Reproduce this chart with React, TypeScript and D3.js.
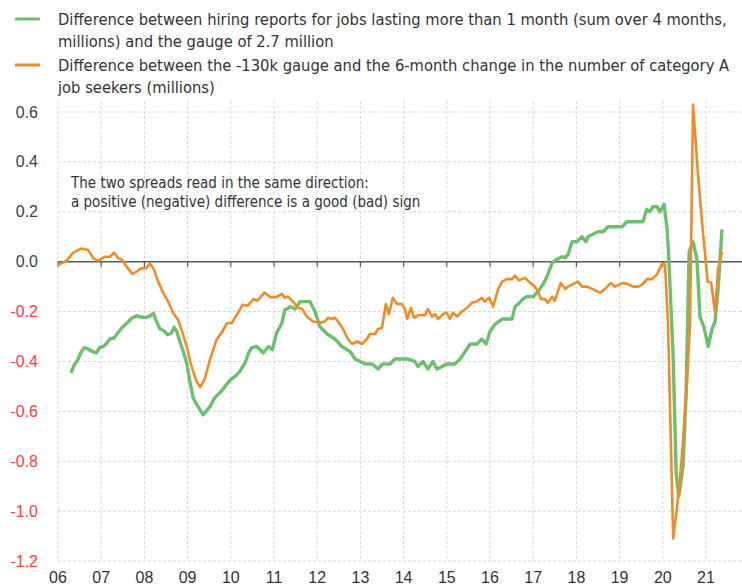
import React from "react";
import * as d3 from "d3";

// [decimal year, value in millions]
const hiringSpread: [number, number][] = [
  [2006.30, -0.446], [2006.38, -0.413], [2006.46, -0.393], [2006.53, -0.364], [2006.61, -0.344],
  [2006.70, -0.35], [2006.79, -0.36], [2006.89, -0.366], [2006.97, -0.343], [2007.05, -0.34],
  [2007.13, -0.327], [2007.20, -0.31], [2007.30, -0.306], [2007.38, -0.287], [2007.47, -0.267],
  [2007.59, -0.247], [2007.71, -0.227], [2007.82, -0.217], [2007.94, -0.223], [2008.05, -0.224],
  [2008.13, -0.217], [2008.21, -0.207], [2008.28, -0.24], [2008.36, -0.27], [2008.44, -0.276],
  [2008.54, -0.293], [2008.62, -0.287], [2008.69, -0.263], [2008.75, -0.28], [2008.82, -0.32],
  [2008.90, -0.36], [2008.98, -0.407], [2009.06, -0.487], [2009.13, -0.547], [2009.22, -0.575],
  [2009.36, -0.614], [2009.52, -0.58], [2009.63, -0.545], [2009.75, -0.525], [2009.87, -0.50],
  [2009.98, -0.476], [2010.10, -0.46], [2010.21, -0.44], [2010.33, -0.406], [2010.41, -0.366],
  [2010.48, -0.346], [2010.60, -0.34], [2010.68, -0.353], [2010.75, -0.366], [2010.87, -0.34],
  [2010.96, -0.353], [2011.06, -0.286], [2011.18, -0.247], [2011.25, -0.193], [2011.30, -0.19],
  [2011.37, -0.18], [2011.49, -0.19], [2011.60, -0.16], [2011.83, -0.16], [2011.95, -0.20],
  [2012.06, -0.26], [2012.23, -0.29], [2012.41, -0.31], [2012.57, -0.34], [2012.76, -0.36],
  [2012.88, -0.39], [2013.11, -0.41], [2013.27, -0.41], [2013.41, -0.43], [2013.52, -0.41],
  [2013.69, -0.41], [2013.80, -0.39], [2014.08, -0.39], [2014.26, -0.40], [2014.33, -0.42],
  [2014.45, -0.40], [2014.56, -0.43], [2014.68, -0.40], [2014.77, -0.43], [2014.89, -0.42],
  [2015.00, -0.41], [2015.19, -0.41], [2015.31, -0.39], [2015.54, -0.33], [2015.70, -0.33],
  [2015.81, -0.31], [2015.91, -0.33], [2016.00, -0.28], [2016.12, -0.25], [2016.28, -0.23],
  [2016.39, -0.23], [2016.51, -0.23], [2016.58, -0.18], [2016.65, -0.17], [2016.76, -0.15],
  [2016.86, -0.14], [2017.00, -0.14], [2017.11, -0.12], [2017.23, -0.09], [2017.32, -0.06],
  [2017.44, -0.005], [2017.55, 0.01], [2017.67, 0.02], [2017.74, 0.015], [2017.81, 0.03],
  [2017.90, 0.08], [2018.01, 0.08], [2018.13, 0.10], [2018.22, 0.08], [2018.27, 0.10],
  [2018.38, 0.11], [2018.50, 0.12], [2018.62, 0.12], [2018.73, 0.14], [2018.85, 0.14],
  [2019.06, 0.14], [2019.17, 0.16], [2019.29, 0.16], [2019.36, 0.16], [2019.54, 0.16],
  [2019.63, 0.21], [2019.70, 0.20], [2019.77, 0.22], [2019.87, 0.22], [2019.93, 0.20],
  [2020.03, 0.23], [2020.10, 0.13], [2020.14, 0.01], [2020.24, -0.38], [2020.31, -0.85],
  [2020.37, -0.94], [2020.47, -0.82], [2020.54, -0.52], [2020.61, 0.04], [2020.70, 0.08],
  [2020.79, 0.01], [2020.86, -0.22], [2020.95, -0.26], [2021.05, -0.34], [2021.14, -0.27],
  [2021.21, -0.24], [2021.28, -0.11], [2021.37, 0.13],
];

const jobSeekerSpread: [number, number][] = [
  [2006.01, -0.013], [2006.20, 0.004], [2006.35, 0.036], [2006.55, 0.053], [2006.70, 0.047],
  [2006.82, 0.013], [2006.93, 0.004], [2007.09, 0.02], [2007.20, 0.02], [2007.30, 0.036],
  [2007.40, 0.013], [2007.47, 0.01], [2007.59, -0.02], [2007.72, -0.049], [2007.82, -0.04],
  [2007.92, -0.027], [2008.03, -0.027], [2008.13, -0.009], [2008.21, -0.027], [2008.32, -0.08],
  [2008.44, -0.127], [2008.55, -0.16], [2008.67, -0.207], [2008.78, -0.233], [2008.86, -0.273],
  [2008.98, -0.34], [2009.09, -0.42], [2009.21, -0.48], [2009.29, -0.503], [2009.39, -0.473],
  [2009.52, -0.393], [2009.67, -0.313], [2009.79, -0.284], [2009.91, -0.247], [2010.02, -0.247],
  [2010.16, -0.207], [2010.27, -0.173], [2010.39, -0.177], [2010.52, -0.15], [2010.62, -0.156],
  [2010.78, -0.124], [2010.91, -0.142], [2011.06, -0.142], [2011.18, -0.129], [2011.25, -0.145],
  [2011.32, -0.14], [2011.44, -0.16], [2011.56, -0.185], [2011.65, -0.19], [2011.76, -0.22],
  [2011.90, -0.24], [2012.06, -0.245], [2012.18, -0.24], [2012.25, -0.225], [2012.34, -0.23],
  [2012.41, -0.225], [2012.48, -0.24], [2012.60, -0.27], [2012.71, -0.31], [2012.81, -0.33],
  [2012.92, -0.32], [2013.04, -0.33], [2013.15, -0.31], [2013.22, -0.29], [2013.34, -0.29],
  [2013.41, -0.27], [2013.50, -0.265], [2013.59, -0.17], [2013.66, -0.21], [2013.75, -0.145],
  [2013.85, -0.17], [2013.96, -0.17], [2014.03, -0.19], [2014.08, -0.23], [2014.17, -0.185],
  [2014.24, -0.225], [2014.33, -0.215], [2014.50, -0.215], [2014.56, -0.19], [2014.66, -0.22],
  [2014.73, -0.21], [2014.80, -0.23], [2014.91, -0.21], [2015.00, -0.205], [2015.07, -0.23],
  [2015.14, -0.205], [2015.24, -0.22], [2015.35, -0.20], [2015.47, -0.185], [2015.58, -0.165],
  [2015.70, -0.16], [2015.81, -0.145], [2015.88, -0.16], [2015.98, -0.145], [2016.07, -0.18],
  [2016.19, -0.11], [2016.28, -0.08], [2016.39, -0.07], [2016.51, -0.07], [2016.58, -0.056],
  [2016.67, -0.075], [2016.81, -0.065], [2016.93, -0.085], [2017.04, -0.10], [2017.11, -0.12],
  [2017.18, -0.15], [2017.27, -0.15], [2017.34, -0.165], [2017.44, -0.14], [2017.50, -0.157],
  [2017.57, -0.12], [2017.64, -0.085], [2017.74, -0.11], [2017.81, -0.10], [2017.92, -0.09],
  [2018.04, -0.08], [2018.13, -0.10], [2018.25, -0.10], [2018.38, -0.11], [2018.55, -0.125],
  [2018.66, -0.11], [2018.80, -0.085], [2018.89, -0.10], [2019.08, -0.085], [2019.19, -0.09],
  [2019.31, -0.10], [2019.43, -0.10], [2019.54, -0.09], [2019.63, -0.07], [2019.75, -0.07],
  [2019.87, -0.05], [2019.98, -0.01], [2020.05, -0.01], [2020.12, -0.245], [2020.24, -1.11],
  [2020.33, -0.985], [2020.44, -0.785], [2020.56, -0.49], [2020.63, -0.245], [2020.70, 0.63],
  [2020.81, 0.36], [2020.93, 0.115], [2021.04, -0.08], [2021.12, -0.085], [2021.21, -0.205],
  [2021.28, -0.03], [2021.37, 0.04],
];

const yearTicks = [2006, 2007, 2008, 2009, 2010, 2011, 2012, 2013, 2014, 2015, 2016, 2017, 2018, 2019, 2020, 2021];
const valueTicks = [0.6, 0.4, 0.2, 0.0, -0.2, -0.4, -0.6, -0.8, -1.0, -1.2];

const legendLabels = [
  ["Difference between hiring reports for jobs lasting more than 1 month (sum over 4 months,", "millions) and the gauge of 2.7 million"],
  ["Difference between the -130k gauge and the 6-month change in the number of category A", "job seekers (millions)"],
];
const noteLines = [
  "The two spreads read in the same direction:",
  "a positive (negative) difference is a good (bad) sign",
];

const GREEN = "#6cbf6e";
const ORANGE = "#f28a26";
const NARROW = "'Liberation Sans Narrow', 'DejaVu Sans Condensed', 'Roboto Condensed', sans-serif";
const SANS = "'Liberation Sans', Arial, sans-serif";

export default function App() {
  const W = 742, H = 587;
  const left = 58, right = 742, top = 101, bottom = 561;
  const x = d3.scaleLinear().domain([2006, 2021]).range([left, left + 15 * 43.2]);
  const y = d3.scaleLinear().domain([-1.2, 0.6]).range([bottom, 112]);
  const line = d3.line<[number, number]>().x((d) => x(d[0])).y((d) => y(d[1]));

  return (
    <div style={{ position: "absolute", left: 0, top: 0 }}>
      <svg width={W} height={H} style={{ display: "block", background: "#fff" }}>
        {/* grid */}
        {yearTicks.map((t) => (
          <line key={"vg" + t} x1={x(t)} x2={x(t)} y1={top} y2={bottom} stroke="#d6d6d6" strokeDasharray="3,2" strokeWidth={1} />
        ))}
        {valueTicks.filter((v) => v !== 0).map((v) => (
          <line key={"hg" + v} x1={left} x2={right} y1={y(v)} y2={y(v)} stroke="#d6d6d6" strokeDasharray="3,2" strokeWidth={1} />
        ))}
        {/* zero axis */}
        <line x1={left} x2={right} y1={y(0)} y2={y(0)} stroke="#5a5a5a" strokeWidth={1.5} />
        {yearTicks.map((t) => (
          <line key={"tk" + t} x1={x(t)} x2={x(t)} y1={y(0)} y2={y(0) + 5} stroke="#5a5a5a" strokeWidth={1.2} />
        ))}
        {/* y labels */}
        {valueTicks.map((v) => (
          <text key={"yl" + v} x={38} y={y(v)} dy="0.35em" textAnchor="end" fontFamily={SANS} fontSize={16}
            fill={v < 0 ? "#ff3b3b" : "#404040"}>{v.toFixed(1)}</text>
        ))}
        {/* x labels */}
        {yearTicks.map((t) => (
          <text key={"xl" + t} x={x(t)} y={583} textAnchor="middle" fontFamily={SANS} fontSize={16} fill="#333">
            {String(t % 100).padStart(2, "0")}
          </text>
        ))}
        {/* series */}
        <path d={line(hiringSpread) || ""} fill="none" stroke={GREEN} strokeWidth={3.4} strokeLinejoin="round" />
        <path d={line(jobSeekerSpread) || ""} fill="none" stroke={ORANGE} strokeWidth={2.6} strokeLinejoin="round" />
        {/* note */}
        {noteLines.map((s, i) => (
          <text key={"n" + i} x={71} y={188 + i * 19} fontFamily={NARROW} fontSize={15} fill="#333">{s}</text>
        ))}
        {/* legend */}
        {legendLabels.map((lines, i) => (
          <g key={"lg" + i}>
            <line x1={15} x2={40} y1={19 + i * 46} y2={19 + i * 46} stroke={i === 0 ? GREEN : ORANGE} strokeWidth={3} />
            {lines.map((s, j) => (
              <text key={j} x={58} y={25 + i * 46 + j * 22} fontFamily={NARROW} fontSize={16.4} fill="#333">{s}</text>
            ))}
          </g>
        ))}
      </svg>
    </div>
  );
}
